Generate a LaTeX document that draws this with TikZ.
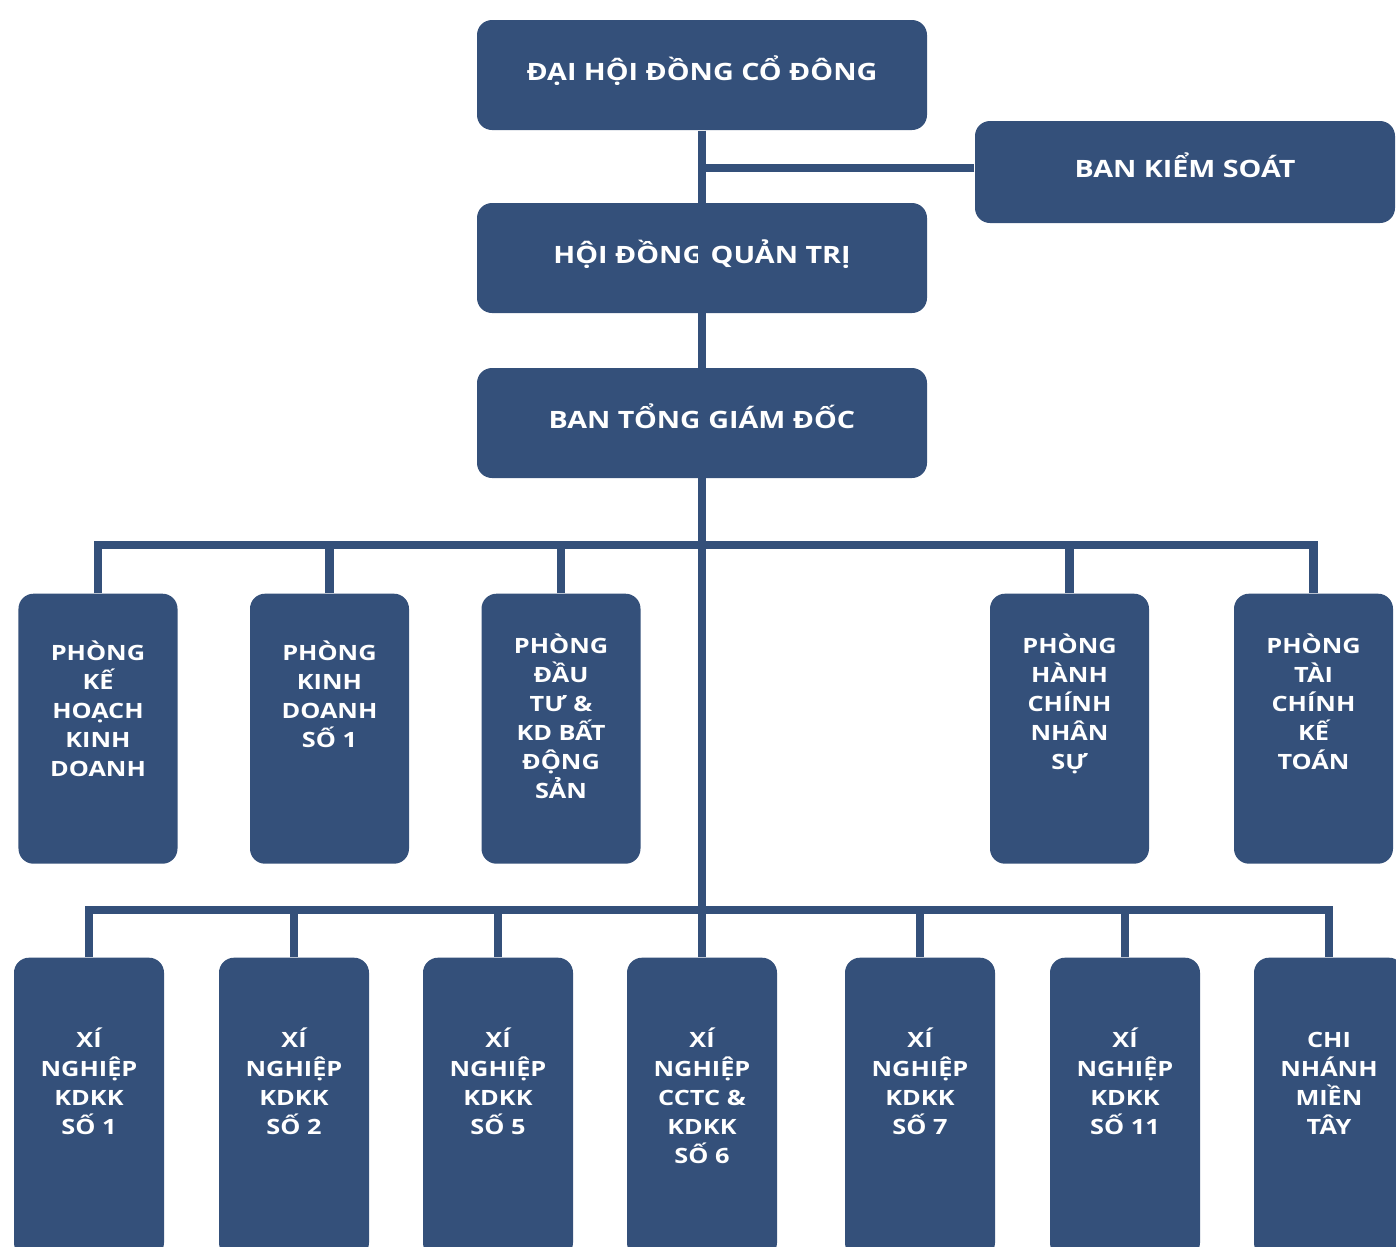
\documentclass[tikz,border=0pt]{standalone}
\usepackage{fontspec}
\setmainfont{Open Sans}[FakeStretch=1.2]
\usetikzlibrary{positioning}
\definecolor{navy}{RGB}{52,80,122}
\tikzset{conn/.style={draw=navy, line width=2.5pt}}
\tikzset{lvl/.style={fill=navy, rounded corners=0.15cm, minimum width=4.5cm, minimum height=1.1cm, inner sep=0pt, text height=0.22cm, text depth=0.12cm, text=white, font=\fontsize{6.8}{8}\selectfont\bfseries}}
\tikzset{dept/.style={fill=navy, rounded corners=0.15cm, minimum width=1.59cm, minimum height=2.7cm, inner sep=0pt, anchor=north}}
\tikzset{unit/.style={dept, minimum width=1.5cm, minimum height=3.0cm}}
\tikzset{dtxt/.style={anchor=north, align=center, inner sep=0pt, text=white, font=\fontsize{6.0}{8.25}\selectfont\bfseries, execute at begin node={\rule{0pt}{1.2em}}}}

\begin{document}
\begin{tikzpicture}
  \useasboundingbox (0,0) rectangle (13.96,-12.46);
  % top levels
  \node[lvl] (dh) at (7.02,-0.75) {ĐẠI HỘI ĐỒNG CỔ ĐÔNG};
  \node[lvl, minimum width=4.2cm, minimum height=1.02cm] (bk) at (11.85,-1.72) {BAN KIỂM SOÁT};
  \node[lvl] (hd) at (7.02,-2.58) {HỘI ĐỒNG QUẢN TRỊ};
  \node[lvl] (bt) at (7.02,-4.23) {BAN TỔNG GIÁM ĐỐC};
  % phong ban
  \foreach \n/\x in {p1/0.98, p2/3.295, p3/5.61, p4/10.695, p5/13.135}
    \node[dept] (\n) at (\x,-5.93) {};
  % xi nghiep
  \foreach \n/\x in {l1/0.89, l2/2.94, l3/4.98, l4/7.02, l5/9.20, l6/11.25, l7/13.29}
    \node[unit] (\n) at (\x,-9.57) {};
  \foreach \n/\dy/\txt in {p1/0.47/{PHÒNG\\KẾ\\HOẠCH\\KINH\\DOANH},
      p2/0.47/{PHÒNG\\KINH\\DOANH\\SỐ 1},
      p3/0.40/{PHÒNG\\ĐẦU\\TƯ \&\\KD BẤT\\ĐỘNG\\SẢN},
      p4/0.40/{PHÒNG\\HÀNH\\CHÍNH\\NHÂN\\SỰ},
      p5/0.40/{PHÒNG\\TÀI\\CHÍNH\\KẾ\\TOÁN},
      l1/0.70/{XÍ\\NGHIỆP\\KDKK\\SỐ 1},
      l2/0.70/{XÍ\\NGHIỆP\\KDKK\\SỐ 2},
      l3/0.70/{XÍ\\NGHIỆP\\KDKK\\SỐ 5},
      l4/0.70/{XÍ\\NGHIỆP\\CCTC \&\\KDKK\\SỐ 6},
      l5/0.70/{XÍ\\NGHIỆP\\KDKK\\SỐ 7},
      l6/0.70/{XÍ\\NGHIỆP\\KDKK\\SỐ 11},
      l7/0.75/{CHI\\NHÁNH\\MIỀN\\TÂY}}
    \node[dtxt] (\n-t) at ([yshift=-\dy cm]\n.north) {\txt};
  % connectors
  \coordinate (ub) at (7.02,-5.45);
  \coordinate (lb) at (7.02,-9.10);
  \draw[conn] (dh.south) -- (l4.north);
  \draw[conn] ([yshift=0.04cm]bk.west) -- ([yshift=0.04cm]bk.west -| dh.south);
  \draw[conn] (p1.north) |- (p5.north |- ub) -- (p5.north);
  \foreach \n in {p2, p3, p4}
    \draw[conn] (\n.north) -- (\n.north |- ub);
  \draw[conn] (l1.north) |- (l7.north |- lb) -- (l7.north);
  \foreach \n in {l2, l3, l5, l6}
    \draw[conn] (\n.north) -- (\n.north |- lb);
\end{tikzpicture}
\end{document}
